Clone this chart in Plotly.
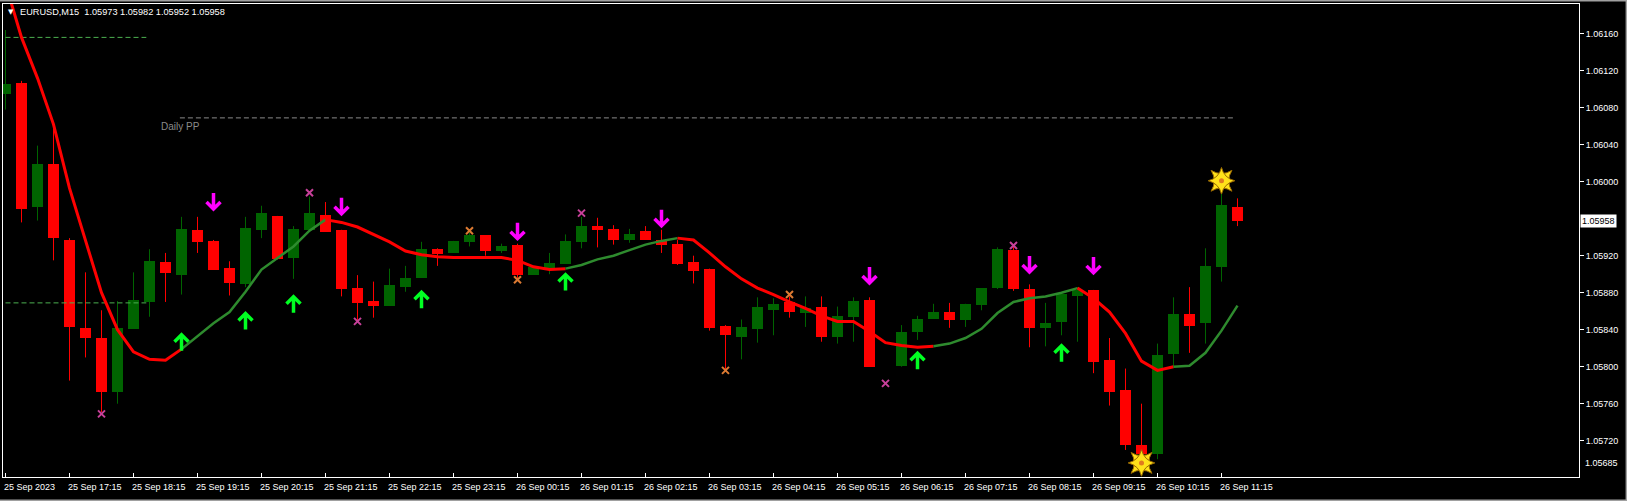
import plotly.graph_objects as go

# ---------------- data (EURUSD M15, one entry per bar) ----------------
bar_index = list(range(78))
opens = [1.06095, 1.06107, 1.05973, 1.06019, 1.05937, 1.05842, 1.05831, 1.05773, 1.05841, 1.05870,
         1.05913, 1.05899, 1.05948, 1.05936, 1.05907, 1.05889, 1.05948, 1.05963, 1.05918, 1.05948,
         1.05964, 1.05948, 1.05885, 1.05871, 1.05866, 1.05886, 1.05896, 1.05927, 1.05923, 1.05935,
         1.05942, 1.05925, 1.05932, 1.05899, 1.05907, 1.05911, 1.05935, 1.05952, 1.05949, 1.05937,
         1.05947, 1.05937, 1.05933, 1.05913, 1.05906, 1.05844, 1.05832, 1.05841, 1.05861, 1.05870,
         1.05858, 1.05865, 1.05832, 1.05854, 1.05872, None, 1.05801, 1.05837, 1.05852, 1.05859,
         1.05850, 1.05867, 1.05885, 1.05926, 1.05884, 1.05842, 1.05848, 1.05876, 1.05883, 1.05807,
         1.05775, 1.05715, 1.05706, 1.05814, 1.05857, 1.05847, 1.05908, 1.05973]
highs = [1.06164, 1.06109, 1.06039, 1.06060, 1.05939, 1.05902, 1.05861, 1.05871, 1.05902, 1.05927,
         1.05923, 1.05962, 1.05962, 1.05937, 1.05914, 1.05962, 1.05974, 1.05963, 1.05952, 1.05984,
         1.05978, 1.05948, 1.05899, 1.05892, 1.05906, 1.05909, 1.05935, 1.05928, 1.05936, 1.05945,
         1.05942, 1.05933, 1.05933, 1.05899, 1.05923, 1.05943, 1.05962, 1.05961, 1.05953, 1.05949,
         1.05952, 1.05948, 1.05937, 1.05920, 1.05906, 1.05845, 1.05851, 1.05875, 1.05874, 1.05876,
         1.05876, 1.05876, 1.05865, 1.05875, 1.05875, None, 1.05845, 1.05855, 1.05868, 1.05869,
         1.05868, 1.05885, 1.05929, 1.05932, 1.05889, 1.05869, 1.05879, 1.05886, 1.05883, 1.05831,
         1.05798, 1.05760, 1.05825, 1.05875, 1.05886, 1.05928, 1.05987, 1.05982]
lows = [1.06078, 1.05956, 1.05958, 1.05915, 1.05785, 1.05810, 1.05751, 1.05760, 1.05841, 1.05854,
        1.05870, 1.05878, 1.05923, 1.05905, 1.05877, 1.05886, 1.05939, 1.05916, 1.05895, 1.05948,
        1.05946, 1.05876, 1.05849, 1.05853, 1.05866, 1.05881, 1.05896, 1.05909, 1.05923, 1.05930,
        1.05920, 1.05923, 1.05896, 1.05899, 1.05900, 1.05911, 1.05928, 1.05929, 1.05932, 1.05934,
        1.05937, 1.05923, 1.05910, 1.05890, 1.05839, 1.05796, 1.05808, 1.05826, 1.05834, 1.05853,
        1.05843, 1.05827, 1.05825, 1.05827, 1.05800, None, 1.05800, 1.05829, 1.05852, 1.05842,
        1.05843, 1.05861, 1.05884, 1.05882, 1.05821, 1.05822, 1.05834, 1.05827, 1.05793, 1.05758,
        1.05710, 1.05706, 1.05700, 1.05800, 1.05815, 1.05825, 1.05892, 1.05952]
closes = [1.06106, 1.05970, 1.06019, 1.05939, 1.05843, 1.05831, 1.05773, 1.05842, 1.05872, 1.05914,
          1.05901, 1.05949, 1.05935, 1.05905, 1.05891, 1.05950, 1.05966, 1.05916, 1.05949, 1.05966,
          1.05946, 1.05884, 1.05869, 1.05866, 1.05888, 1.05896, 1.05927, 1.05922, 1.05936, 1.05942,
          1.05925, 1.05930, 1.05899, 1.05908, 1.05912, 1.05936, 1.05952, 1.05948, 1.05937, 1.05944,
          1.05937, 1.05932, 1.05911, 1.05904, 1.05842, 1.05834, 1.05843, 1.05865, 1.05868, 1.05859,
          1.05864, 1.05832, 1.05855, 1.05871, 1.05800, None, 1.05837, 1.05852, 1.05859, 1.05850,
          1.05868, 1.05885, 1.05927, 1.05884, 1.05842, 1.05847, 1.05879, 1.05883, 1.05805, 1.05773,
          1.05715, 1.05706, 1.05813, 1.05857, 1.05844, 1.05909, 1.05975, 1.05958]

ma_values = [1.06214, 1.06156, 1.06112, 1.06062, 1.05993, 1.05936, 1.05880, 1.05840, 1.05816, 1.05808,
             1.05807, 1.05819, 1.05833, 1.05847, 1.05859, 1.05881, 1.05905, 1.05918, 1.05930, 1.05947,
             1.05959, 1.05956, 1.05951, 1.05943, 1.05935, 1.05925, 1.05921, 1.05919, 1.05918, 1.05918,
             1.05918, 1.05918, 1.05915, 1.05908, 1.05905, 1.05906, 1.05910, 1.05916, 1.05920, 1.05926,
             1.05932, 1.05936, 1.05939, 1.05937, 1.05923, 1.05908, 1.05895, 1.05885, 1.05878, 1.05870,
             1.05863, 1.05855, 1.05849, 1.05849, 1.05838, 1.05826, 1.05823, 1.05821, 1.05822, 1.05825,
             1.05831, 1.05841, 1.05858, 1.05870, 1.05874, 1.05876, 1.05880, 1.05885, 1.05874, 1.05859,
             1.05836, 1.05806, 1.05796, 1.05800, 1.05801, 1.05815, 1.05839, 1.05866]
trend_start = [0, 11, 20, 35, 42, 58, 67, 73]
trend_dir = ["down", "up", "down", "up", "down", "up", "down", "up"]

sell_bars = [13, 21, 32, 41, 54, 64, 68]
sell_price = [1.05978, 1.05973, 1.05946, 1.05960, 1.05898, 1.05910, 1.05909]
buy_bars = [11, 15, 18, 26, 35, 57, 66]
buy_price = [1.05827, 1.05850, 1.05868, 1.05873, 1.05892, 1.05807, 1.05815]
pink_x_bars = [6, 19, 22, 36, 55, 63]
pink_x_price = [1.05749, 1.05988, 1.05849, 1.05966, 1.05782, 1.05931]
orange_x_bars = [29, 32, 45, 49]
orange_x_price = [1.05947, 1.05894, 1.05796, 1.05878]
star_bars = [71, 76]
star_price = [1.05696, 1.06001]

green_levels = [1.06156, 1.05869]
green_level_span = [-0.5, 8.8]
pp_level = 1.06069
pp_span = [10.9, 76.85]

time_tick_bars = list(range(0, 78, 4))
time_tick_labels = ["25 Sep 2023", "25 Sep 17:15", "25 Sep 18:15", "25 Sep 19:15", "25 Sep 20:15",
                    "25 Sep 21:15", "25 Sep 22:15", "25 Sep 23:15", "26 Sep 00:15", "26 Sep 01:15",
                    "26 Sep 02:15", "26 Sep 03:15", "26 Sep 04:15", "26 Sep 05:15", "26 Sep 06:15",
                    "26 Sep 07:15", "26 Sep 08:15", "26 Sep 09:15", "26 Sep 10:15", "26 Sep 11:15"]
price_ticks = [1.06160, 1.06120, 1.06080, 1.06040, 1.06000, 1.05920, 1.05880,
               1.05840, 1.05800, 1.05760, 1.05720]
bottom_price_label = "1.05685"
symbol = "EURUSD,M15"

# ---------------- styling ----------------
BULL = "#006400"
BEAR = "#FF0000"
MA_UP = "#2E8B2E"
MA_DN = "#FF0000"
FONT = "Liberation Sans"

fig = go.Figure()

# candle bodies and wicks
for color, is_bull in ((BULL, True), (BEAR, False)):
    xs, base, hgt, wx, wy = [], [], [], [], []
    for i, o, h, l, c in zip(bar_index, opens, highs, lows, closes):
        if o is None:
            continue
        if (c >= o) != is_bull:
            continue
        xs.append(i)
        base.append(min(o, c))
        hgt.append(max(abs(c - o), 0.00001))
        wx += [i, i, None]
        wy += [l, h, None]
    fig.add_trace(go.Scatter(x=wx, y=wy, mode="lines", line=dict(color=color, width=1),
                             hoverinfo="skip"))
    fig.add_trace(go.Bar(x=xs, y=hgt, base=base, width=0.6875,
                         marker=dict(color=color, line=dict(width=0)), hoverinfo="skip"))

# pivot / level lines
for lv in green_levels:
    fig.add_trace(go.Scatter(x=green_level_span, y=[lv, lv], mode="lines",
                             line=dict(color="#4CAF50", width=1, dash="5px,3px"), hoverinfo="skip"))
fig.add_trace(go.Scatter(x=pp_span, y=[pp_level, pp_level], mode="lines",
                         line=dict(color="#8A8A8A", width=1, dash="5px,3px"), hoverinfo="skip"))
fig.add_annotation(x=pp_span[0], y=pp_level, xref="x", yref="y", text="Daily PP",
                   showarrow=False, xanchor="left", yanchor="top", xshift=-21, yshift=-1,
                   font=dict(family=FONT, size=10, color="#8A8A8A"))

# moving average, coloured by trend
ends = trend_start[1:] + [len(ma_values) - 1]
for s, e, d in zip(trend_start, ends, trend_dir):
    fig.add_trace(go.Scatter(x=bar_index[s:e + 1], y=ma_values[s:e + 1], mode="lines",
                             line=dict(color=MA_UP if d == "up" else MA_DN,
                                       width=2.5 if d == "up" else 3),
                             hoverinfo="skip"))

# signal arrows: glyph drawn in pixels around each (bar, price) anchor
DOWN_ARROW = "M0,9 L0,-7 M-7,0 L0,-7 L7,0"
UP_ARROW = "M0,-9 L0,7 M-7,0 L0,7 L7,0"
for bars, prices, path, col in ((sell_bars, sell_price, DOWN_ARROW, "#FF00FF"),
                                (buy_bars, buy_price, UP_ARROW, "#00FF22")):
    for b, p in zip(bars, prices):
        fig.add_shape(type="path", xref="x", yref="y", xsizemode="pixel", ysizemode="pixel",
                      xanchor=b, yanchor=p, path=path, line=dict(color=col, width=3.5))

# x marks
fig.add_trace(go.Scatter(x=pink_x_bars, y=pink_x_price, mode="markers",
                         marker=dict(symbol="x-thin-open", size=7, color="#C8409A",
                                     line=dict(color="#C8409A", width=2)), hoverinfo="skip"))
fig.add_trace(go.Scatter(x=orange_x_bars, y=orange_x_price, mode="markers",
                         marker=dict(symbol="x-thin-open", size=7, color="#DC7A32",
                                     line=dict(color="#DC7A32", width=2)), hoverinfo="skip"))

# stars
for sym in ("star-square", "star-diamond"):
    fig.add_trace(go.Scatter(x=star_bars, y=star_price, mode="markers",
                             marker=dict(symbol=sym, size=19, color="#FFE21A",
                                         line=dict(color="#9A6A00", width=1)), hoverinfo="skip"))
fig.add_trace(go.Scatter(x=star_bars, y=star_price, mode="markers",
                         marker=dict(symbol="circle", size=5, color="#E07A20"), hoverinfo="skip"))

# time labels (left-aligned on their tick, MT4 style)
for b, lab in zip(time_tick_bars, time_tick_labels):
    fig.add_annotation(x=b, y=0, xref="x", yref="paper", text=lab, showarrow=False,
                       xanchor="left", yanchor="top", xshift=-4, yshift=-3,
                       font=dict(family=FONT, size=9, color="white"))

# header
fig.add_annotation(x=0, y=1, xref="paper", yref="paper", text="▼", showarrow=False,
                   xanchor="left", yanchor="middle", xshift=3, yshift=-8,
                   font=dict(family="DejaVu Sans", size=7, color="white"))
header = "%s  %.5f %.5f %.5f %.5f" % (symbol, opens[-1], highs[-1], lows[-1], closes[-1])
fig.add_annotation(x=0, y=1, xref="paper", yref="paper", text=header.replace(" ", "&nbsp;"),
                   showarrow=False, xanchor="left", yanchor="middle", xshift=15, yshift=-8,
                   font=dict(family=FONT, size=9.2, color="white"))

# current price box
fig.add_annotation(x=1, y=closes[-1], xref="paper", yref="y", text="%.5f" % closes[-1],
                   showarrow=False, xanchor="left", yanchor="middle", xshift=1,
                   bgcolor="white", borderpad=1,
                   font=dict(family=FONT, size=9, color="black"))
# bottom price label of the scale
fig.add_annotation(x=1, y=0.0296, xref="paper", yref="paper", text=bottom_price_label,
                   showarrow=False, xanchor="left", yanchor="middle", xshift=4,
                   font=dict(family=FONT, size=9, color="white"))

# window frame (top, right, bottom edges)
FRAME = "#A0A0A0"
fig.add_shape(type="line", xref="paper", yref="paper", x0=-0.01, x1=1.04, y0=1.0075, y1=1.0075,
              line=dict(color=FRAME, width=2))
fig.add_shape(type="line", xref="paper", yref="paper", x0=1.0302, x1=1.0302, y0=-0.06, y1=1.02,
              line=dict(color=FRAME, width=2))
fig.add_shape(type="line", xref="paper", yref="paper", x0=-0.01, x1=1.04, y0=-0.0497, y1=-0.0497,
              line=dict(color=FRAME, width=2))

fig.update_layout(
    width=1627, height=501,
    margin=dict(l=3, r=48, t=4, b=24),
    paper_bgcolor="black", plot_bgcolor="black",
    showlegend=False, bargap=0,
    xaxis=dict(range=[-0.15625, 98.34375], showgrid=False, zeroline=False,
               showline=True, mirror=True, linecolor="white", linewidth=1,
               tickvals=time_tick_bars, ticks="inside", ticklen=4, tickcolor="white",
               showticklabels=False, fixedrange=True),
    yaxis=dict(range=[1.0568076, 1.0619211], side="right", showgrid=False, zeroline=False,
               showline=True, mirror=True, linecolor="white", linewidth=1,
               tickvals=price_ticks, ticktext=["%.5f" % p for p in price_ticks],
               ticks="outside", ticklen=4, tickcolor="white",
               tickfont=dict(family=FONT, size=9, color="white"), fixedrange=True),
)

fig.write_html("out.html", config={"displayModeBar": False},
               post_script="document.body.style.margin='0';document.body.style.overflow='hidden';")
